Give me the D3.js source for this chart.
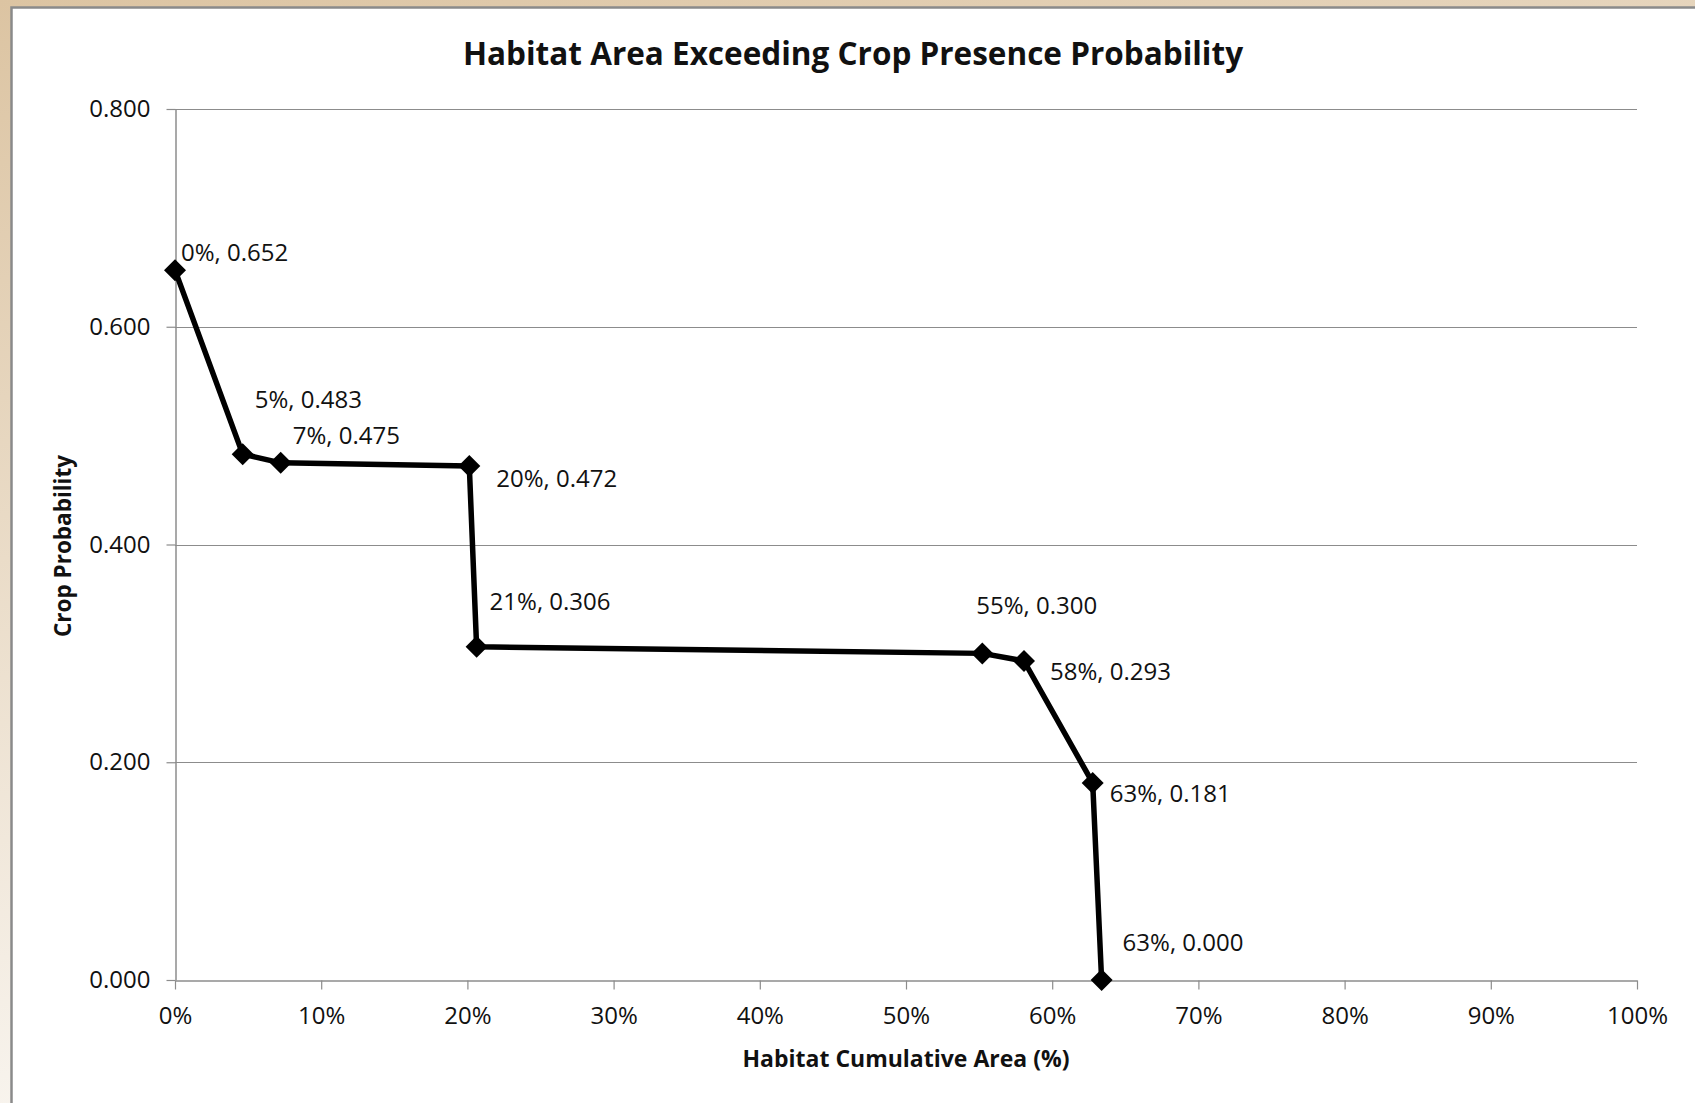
<!DOCTYPE html>
<html>
<head>
<meta charset="utf-8">
<script src="https://cdn.jsdelivr.net/npm/d3@7"></script>
<style>
  html, body { margin: 0; padding: 0; background: #fff; }
  svg { display: block; }
  text { font-family: "Open Sans", "Noto Sans", sans-serif; fill: #111; }
</style>
</head>
<body>
<svg id="chart" width="1695" height="1103"></svg>
<script>
// Cumulative habitat area (%) vs. crop presence probability threshold
const areaPct     = [0, 4.63, 7.23, 20.13, 20.63, 55.22, 58.07, 62.77, 63.38];
const probability = [0.652, 0.483, 0.475, 0.472, 0.306, 0.300, 0.293, 0.181, 0.000];

const xTicks = [0, 10, 20, 30, 40, 50, 60, 70, 80, 90, 100];
const yTicks = [0, 0.2, 0.4, 0.6, 0.8];

// Offset of each point label from its marker (dx to text start, dy to baseline)
const labelOffsets = [
  [6, -9], [12, -46], [12, -19], [27, 21], [13, -37],
  [-6, -39], [26, 19], [17, 19], [21, -29]
];

const svg = d3.select("#chart");
const W = 1695, H = 1103;

// Frame: tan backdrop with a white chart sheet on top
const defs = svg.append("defs");
const grad = defs.append("linearGradient").attr("id", "backdrop")
  .attr("x1", 0).attr("y1", 0).attr("x2", 0.35).attr("y2", 1);
grad.append("stop").attr("offset", "0%").attr("stop-color", "#dcc4a2");
grad.append("stop").attr("offset", "100%").attr("stop-color", "#fbf9f6");
svg.append("rect").attr("width", W).attr("height", H).attr("fill", "url(#backdrop)");
svg.append("rect").attr("x", 11).attr("y", 7).attr("width", W).attr("height", H)
  .attr("fill", "#fff");
svg.append("path").attr("d", `M11.5,${H} V7.5 H${W}`)
  .attr("fill", "none").attr("stroke", "#8a8a8a").attr("stroke-width", 2.5);

const plot = { left: 175, right: 1637, top: 109, bottom: 980 };

const x = d3.scaleLinear().domain([0, 100]).range([plot.left, plot.right]);
const y = d3.scaleLinear().domain([0, 0.8]).range([plot.bottom, plot.top]);

// Horizontal gridlines
svg.append("g")
  .selectAll("line")
  .data(yTicks.filter(d => d > 0))
  .join("line")
  .attr("x1", plot.left).attr("x2", plot.right)
  .attr("y1", d => Math.round(y(d)) + 0.5).attr("y2", d => Math.round(y(d)) + 0.5)
  .attr("stroke", "#8c8c8c").attr("stroke-width", 1.2);

// Y axis
const yAxis = svg.append("g")
  .attr("transform", `translate(${plot.left + 0.5},0)`)
  .call(d3.axisLeft(y).tickValues(yTicks).tickFormat(d3.format(".3f"))
    .tickSizeInner(9).tickSizeOuter(0).tickPadding(16));
yAxis.select(".domain").attr("stroke", "#8c8c8c").attr("stroke-width", 1.5);
yAxis.selectAll(".tick line").attr("stroke", "#8c8c8c").attr("stroke-width", 1.2);
yAxis.selectAll(".tick text")
  .attr("font-family", "'Open Sans', sans-serif").attr("font-size", 24)
  .attr("fill", "#111");

// X axis
const xAxis = svg.append("g")
  .attr("transform", `translate(0,${plot.bottom + 0.5})`)
  .call(d3.axisBottom(x).tickValues(xTicks).tickFormat(d => d + "%")
    .tickSizeInner(9).tickSizeOuter(0).tickPadding(17));
xAxis.select(".domain").attr("stroke", "#8c8c8c").attr("stroke-width", 1.5);
xAxis.selectAll(".tick line").attr("stroke", "#8c8c8c").attr("stroke-width", 1.2);
xAxis.selectAll(".tick text")
  .attr("font-family", "'Open Sans', sans-serif").attr("font-size", 24)
  .attr("fill", "#111");

// Series line
const points = areaPct.map((a, i) => ({ a, p: probability[i], off: labelOffsets[i] }));
svg.append("path")
  .datum(points)
  .attr("d", d3.line().x(d => x(d.a)).y(d => y(d.p)))
  .attr("fill", "none").attr("stroke", "#000").attr("stroke-width", 5.5)
  .attr("stroke-linejoin", "round");

// Diamond markers
svg.append("g")
  .selectAll("path")
  .data(points)
  .join("path")
  .attr("transform", d => `translate(${x(d.a)},${y(d.p)})`)
  .attr("d", "M0,-11 L11,0 L0,11 L-11,0 Z")
  .attr("fill", "#000");

// Point labels
svg.append("g")
  .selectAll("text")
  .data(points)
  .join("text")
  .attr("x", d => x(d.a) + d.off[0])
  .attr("y", d => y(d.p) + d.off[1])
  .attr("font-size", 24)
  .text(d => `${Math.round(d.a)}%, ${d.p.toFixed(3)}`);

// Title and axis titles
svg.append("text")
  .attr("x", 853).attr("y", 65)
  .attr("text-anchor", "middle")
  .attr("font-size", 31.5).attr("font-weight", 700)
  .text("Habitat Area Exceeding Crop Presence Probability");

svg.append("text")
  .attr("x", (plot.left + plot.right) / 2).attr("y", 1067)
  .attr("text-anchor", "middle")
  .attr("font-size", 23).attr("font-weight", 700)
  .text("Habitat Cumulative Area (%)");

svg.append("text")
  .attr("transform", "translate(71,546) rotate(-90)")
  .attr("text-anchor", "middle")
  .attr("font-size", 22.5).attr("font-weight", 700)
  .text("Crop Probability");
</script>
</body>
</html>
